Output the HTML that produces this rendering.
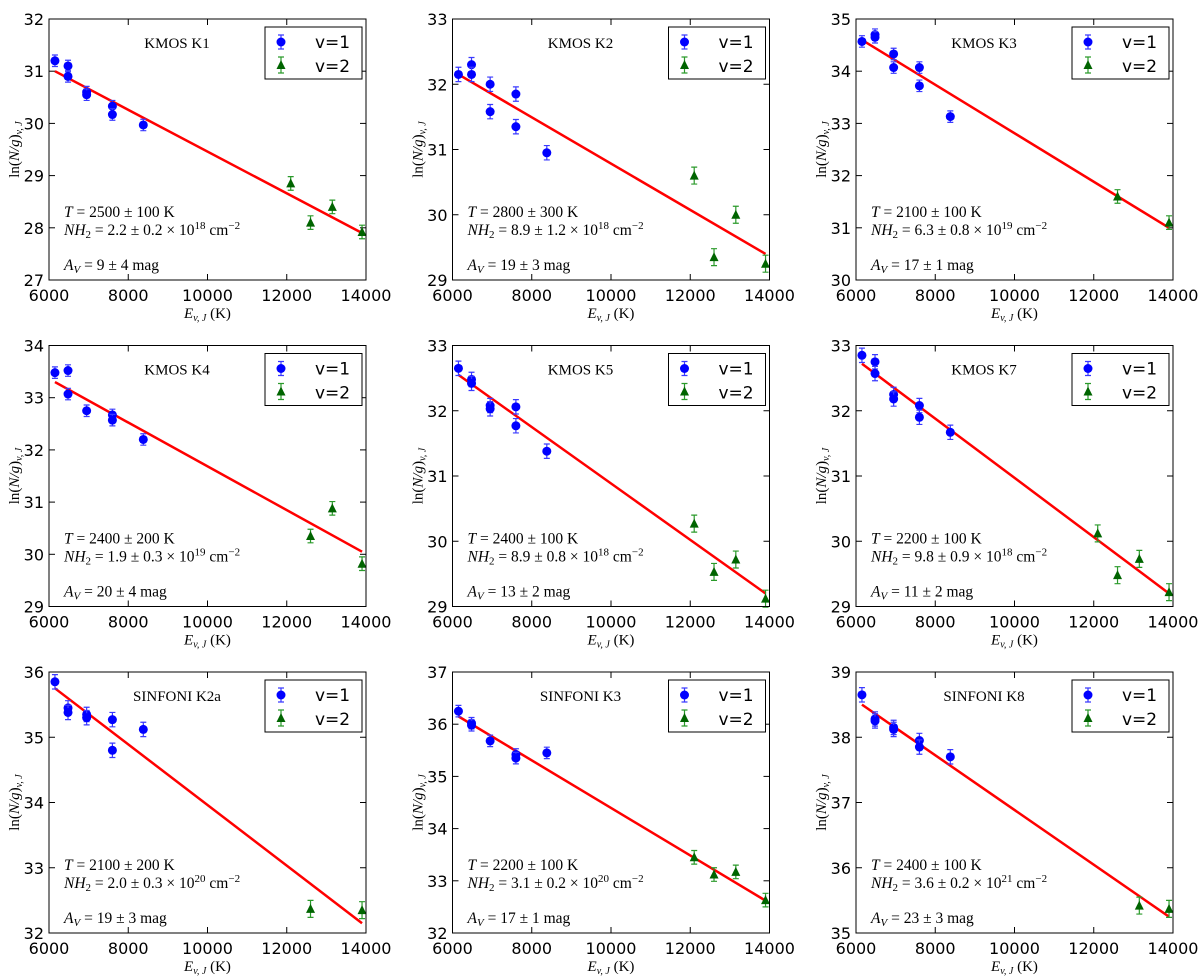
<!DOCTYPE html>
<html><head><meta charset="utf-8"><style>
body{margin:0;background:#fff}
svg{display:block}
text{font-family:"DejaVu Sans","Liberation Sans",sans-serif}
.s{font-family:"Liberation Serif",serif}
</style></head><body>
<svg id="c" width="1200" height="977"></svg>
<script>
const titles=["KMOS K1","KMOS K2","KMOS K3","KMOS K4","KMOS K5","KMOS K7","SINFONI K2a","SINFONI K3","SINFONI K8"];
const yMins=[27,29,30,29,29,29,32,32,35];
const yMaxs=[32,33,35,34,33,33,36,37,39];
const xTicks=[6000,8000,10000,12000,14000];
const v1E=[[6150,6480,6480,6950,6950,7600,7600,8380],[6150,6480,6480,6950,6950,7600,7600,8380],[6150,6480,6480,6950,6950,7600,7600,8380],[6150,6480,6480,6950,7600,7600,8380],[6150,6480,6480,6950,6950,7600,7600,8380],[6150,6480,6480,6950,6950,7600,7600,8380],[6150,6480,6480,6950,6950,7600,7600,8380],[6150,6480,6480,6950,7600,7600,8380],[6150,6480,6480,6950,6950,7600,7600,8380]];
const v1Y=[[31.2,31.1,30.9,30.6,30.55,30.33,30.17,29.97],[32.15,32.3,32.15,32.0,31.58,31.85,31.35,30.95],[34.57,34.7,34.65,34.33,34.07,34.07,33.72,33.13],[33.48,33.52,33.07,32.75,32.67,32.57,32.2],[32.65,32.48,32.42,32.08,32.03,32.06,31.77,31.38],[32.85,32.75,32.57,32.25,32.18,32.08,31.9,31.67],[35.85,35.45,35.38,35.35,35.3,35.27,34.8,35.12],[36.25,36.02,35.98,35.68,35.42,35.35,35.45],[38.65,38.28,38.25,38.15,38.12,37.95,37.85,37.7]];
const v2E=[[12100,12600,13150,13900],[12100,12600,13150,13900],[12600,13900],[12600,13150,13900],[12100,12600,13150,13900],[12100,12600,13150,13900],[12600,13900],[12100,12600,13150,13900],[13150,13900]];
const v2Y=[[28.85,28.1,28.4,27.92],[30.6,29.35,30.0,29.25],[31.6,31.1],[30.35,30.88,29.82],[30.27,29.53,29.72,29.12],[30.12,29.48,29.73,29.22],[32.37,32.35],[33.45,33.12,33.17,32.63],[35.42,35.37]];
const errV1=0.11, errV2=0.13;
const fitE=[6150,13900];
const fitY=[[31.0,27.9],[32.15,29.4],[34.6,31.0],[33.3,30.05],[32.55,29.2],[32.72,29.2],[35.75,32.15],[36.15,32.62],[38.5,35.25]];
const Ts=["2500 ± 100 K","2800 ± 300 K","2100 ± 100 K","2400 ± 200 K","2400 ± 100 K","2200 ± 100 K","2100 ± 200 K","2200 ± 100 K","2400 ± 100 K"];
const Ns=["2.2 ± 0.2 × 10","8.9 ± 1.2 × 10","6.3 ± 0.8 × 10","1.9 ± 0.3 × 10","8.9 ± 0.8 × 10","9.8 ± 0.9 × 10","2.0 ± 0.3 × 10","3.1 ± 0.2 × 10","3.6 ± 0.2 × 10"];
const Nexp=["18","18","19","19","18","18","20","20","21"];
const As=["9 ± 4 mag","19 ± 3 mag","17 ± 1 mag","20 ± 4 mag","13 ± 2 mag","11 ± 2 mag","19 ± 3 mag","17 ± 1 mag","23 ± 3 mag"];

const svg=document.getElementById('c');const NS="http://www.w3.org/2000/svg";
function mk(t,a,p,txt){const e=document.createElementNS(NS,t);for(const k in a)e.setAttribute(k,a[k]);if(txt!==undefined)e.textContent=txt;(p||svg).appendChild(e);return e;}
const W=317,H=261;
for(let i=0;i<9;i++){
 const L=49+(i%3)*403.5, T=19+Math.floor(i/3)*326.5;
 const g=mk('g',{});
 
 
 const X=e=>L+(e-6000)/8000*W, Y=v=>T+H-(v-yMins[i])/(yMaxs[i]-yMins[i])*H;
 xTicks.forEach(t=>{const x=X(t);mk('line',{x1:x,x2:x,y1:T+H,y2:T+H-6,stroke:'#000'},g);mk('line',{x1:x,x2:x,y1:T,y2:T+6,stroke:'#000'},g);
  const tl=mk('text',{x:x,y:T+H+21,'text-anchor':'middle','font-size':16},g,t);});
 for(let v=yMins[i];v<=yMaxs[i];v++){const y=Y(v);mk('line',{x1:L,x2:L+6,y1:y,y2:y,stroke:'#000'},g);mk('line',{x1:L+W,x2:L+W-6,y1:y,y2:y,stroke:'#000'},g);
  const tl=mk('text',{x:L-5,y:y+6,'text-anchor':'end','font-size':16},g,v);}
 const fl=mk('line',{x1:X(fitE[0]),y1:Y(fitY[i][0]),x2:X(fitE[1]),y2:Y(fitY[i][1]),stroke:'#f00','stroke-width':2.5},g);
 
 v1E[i].forEach((e,j)=>{const x=X(e),y=Y(v1Y[i][j]),y1=Y(v1Y[i][j]+errV1),y2=Y(v1Y[i][j]-errV1);
  mk('path',{d:`M${x},${y1}V${y2}M${x-3},${y1}h6M${x-3},${y2}h6`,stroke:'#3a3aff','stroke-width':1.2,fill:'none'},g);
  const c=mk('circle',{cx:x,cy:y,r:4.5,fill:'#0000ff'},g);});
 v2E[i].forEach((e,j)=>{const x=X(e),y=Y(v2Y[i][j]),y1=Y(v2Y[i][j]+errV2),y2=Y(v2Y[i][j]-errV2);
  mk('path',{d:`M${x},${y1}V${y2}M${x-3},${y1}h6M${x-3},${y2}h6`,stroke:'#2a9a2a','stroke-width':1.2,fill:'none'},g);
  const p=mk('path',{d:`M${x},${y-5}L${x+4.5},${y+4}L${x-4.5},${y+4}Z`,fill:'#006400'},g);});
 mk('rect',{x:L,y:T,width:W,height:H,fill:'none',stroke:'#000','stroke-width':1},g);
 const tt=mk('text',{x:L+128,y:T+29,'text-anchor':'middle','font-size':15,class:'s'},g,titles[i]);
 const lg=mk('g',{},g);
 mk('rect',{x:L+216,y:T+8,width:97,height:52,fill:'#fff',stroke:'#000','stroke-width':1},lg);
 const lx=L+232;
 mk('path',{d:`M${lx},${T+16}V${T+30}M${lx-3},${T+16}h6M${lx-3},${T+30}h6`,stroke:'#3a3aff','stroke-width':1.2},lg);
 mk('circle',{cx:lx,cy:T+23,r:4.5,fill:'#0000ff'},lg);
 mk('text',{x:L+266,y:T+29,'font-size':17},lg,'v=1');
 mk('path',{d:`M${lx},${T+38}V${T+54}M${lx-3},${T+38}h6M${lx-3},${T+54}h6`,stroke:'#2a9a2a','stroke-width':1.2},lg);
 mk('path',{d:`M${lx},${T+41}L${lx+4.5},${T+50}L${lx-4.5},${T+50}Z`,fill:'#006400'},lg);
 mk('text',{x:L+266,y:T+53,'font-size':17},lg,'v=2');
 const a1=mk('text',{x:L+15,y:T+H-63,'font-size':15.5,class:'s'},g);
 mk('tspan',{'font-style':'italic'},a1,'T');mk('tspan',{},a1,' = '+Ts[i]);
 const a2=mk('text',{x:L+15,y:T+H-45,'font-size':15.5,class:'s'},g);
 mk('tspan',{'font-style':'italic'},a2,'NH');mk('tspan',{'font-size':11,dy:3},a2,'2');mk('tspan',{dy:-3},a2,' = '+Ns[i]);
 mk('tspan',{'font-size':11,dy:-6},a2,Nexp[i]);mk('tspan',{dy:6},a2,' cm');mk('tspan',{'font-size':11,dy:-6},a2,'−2');
 const a3=mk('text',{x:L+15,y:T+H-10,'font-size':15.5,class:'s'},g);
 mk('tspan',{'font-style':'italic'},a3,'A');mk('tspan',{'font-size':11,dy:3,'font-style':'italic'},a3,'V');mk('tspan',{dy:-3},a3,' = '+As[i]);
 const xl=mk('text',{x:L+W/2,y:T+H+38,'text-anchor':'middle','font-size':15,class:'s'},g);
 mk('tspan',{'font-style':'italic'},xl,'E');mk('tspan',{'font-size':10,dy:3,'font-style':'italic'},xl,'v, J');mk('tspan',{dy:-3},xl,' (K)');
 const yl=mk('text',{x:0,y:0,'text-anchor':'middle','font-size':15,class:'s',transform:`translate(${L-30},${T+H/2}) rotate(-90)`},g);
 mk('tspan',{},yl,'ln(');mk('tspan',{'font-style':'italic'},yl,'N/g');mk('tspan',{},yl,')');mk('tspan',{'font-size':10,dy:3,'font-style':'italic'},yl,'v, J');
}
</script>
</body></html>
